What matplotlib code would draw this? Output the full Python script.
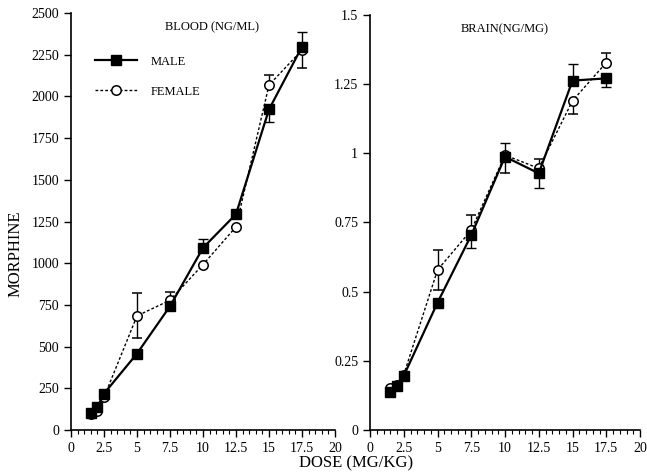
import matplotlib
matplotlib.use("Agg")
import matplotlib.pyplot as plt
from matplotlib.lines import Line2D
from matplotlib.ticker import MultipleLocator

plt.rcParams['font.family'] = ['Liberation Serif', 'DejaVu Serif']

dose = [1.5, 2, 2.5, 5, 7.5, 10, 12.5, 15, 17.5]

# blood (ng/ml)
blood_male = [104, 138, 218, 458, 742, 1092, 1294, 1922, 2298]
blood_male_lo = [0, 0, 0, 0, 0, 0, 0, 78, 0]
blood_male_hi = [0, 0, 0, 0, 0, 52, 0, 0, 86]
blood_female = [93, 115, 196, 684, 778, 992, 1218, 2068, 2278]
blood_female_lo = [0, 0, 0, 135, 0, 0, 0, 0, 110]
blood_female_hi = [0, 0, 0, 138, 50, 0, 0, 60, 0]

# brain (ng/mg)
brain_male = [0.136, 0.160, 0.196, 0.460, 0.704, 0.987, 0.927, 1.262, 1.270]
brain_male_lo = [0, 0, 0, 0, 0.048, 0, 0.054, 0, 0.032]
brain_male_hi = [0, 0, 0, 0, 0, 0.051, 0, 0.059, 0]
brain_female = [0.150, 0.162, 0.200, 0.578, 0.722, 0.993, 0.945, 1.189, 1.327]
brain_female_lo = [0, 0, 0, 0.072, 0, 0.064, 0, 0.049, 0]
brain_female_hi = [0, 0, 0, 0.072, 0.054, 0, 0.033, 0, 0.033]

xticks = [0, 2.5, 5, 7.5, 10, 12.5, 15, 17.5, 20]
xtick_labels = ["0", "2.5", "5", "7.5", "10", "12.5", "15", "17.5", "20"]
blood_ticks = [0, 250, 500, 750, 1000, 1250, 1500, 1750, 2000, 2250, 2500]
brain_ticks = [0, 0.25, 0.5, 0.75, 1, 1.25, 1.5]
brain_tick_labels = ["0", "0.25", "0.5", "0.75", "1", "1.25", "1.5"]

male_style = dict(marker='s', ls='-', color='black', ms=7.3, lw=1.6)
female_style = dict(marker='o', ls=(0, (2, 1.5)), color='black', mfc='white',
                    mec='black', ms=6.8, mew=1.1, lw=1.0)

fig = plt.figure(figsize=(6.47, 4.74), dpi=100)
ax1 = fig.add_axes([0.1097, 0.0928, 0.4081, 0.8798])
ax2 = fig.add_axes([0.5719, 0.0928, 0.4173, 0.8762])


def draw(ax, m, mlo, mhi, f, flo, fhi):
    ax.errorbar(dose, f, yerr=[flo, fhi], capsize=3.5, elinewidth=1.0,
                capthick=1.0, zorder=3, ecolor='black', **female_style)
    ax.errorbar(dose, m, yerr=[mlo, mhi], capsize=3.5, elinewidth=1.0,
                capthick=1.0, zorder=4, ecolor='black', **male_style)
    ax.set_xlim(0, 20)
    ax.set_xticks(xticks)
    ax.set_xticklabels(xtick_labels)
    ax.xaxis.set_minor_locator(MultipleLocator(0.5))
    for s in ['top', 'right']:
        ax.spines[s].set_visible(False)
    ax.spines['left'].set_linewidth(1.2)
    ax.spines['bottom'].set_linewidth(1.2)
    ax.tick_params(which='major', length=5, width=1.0, labelsize=10, direction='out')
    ax.tick_params(which='minor', length=3, width=0.8, direction='out')
    ax.tick_params(axis='y', which='minor', left=False)


draw(ax1, blood_male, blood_male_lo, blood_male_hi,
     blood_female, blood_female_lo, blood_female_hi)
ax1.set_ylim(0, 2500)
ax1.set_yticks(blood_ticks)
ax1.text(0.535, 0.965, "BLOOD (NG/ML)", transform=ax1.transAxes, ha='center',
         va='center', fontsize=9)
handles = [Line2D([], [], **male_style), Line2D([], [], **female_style)]
ax1.legend(handles, ["MALE", "FEMALE"], loc='upper left', bbox_to_anchor=(0.05, 0.925),
           frameon=False, fontsize=9, handlelength=3.3, labelspacing=1.45,
           handletextpad=1.1)

draw(ax2, brain_male, brain_male_lo, brain_male_hi,
     brain_female, brain_female_lo, brain_female_hi)
ax2.set_ylim(0, 1.5)
ax2.set_yticks(brain_ticks)
ax2.set_yticklabels(brain_tick_labels)
ax2.text(0.5, 0.965, "BRAIN(NG/MG)", transform=ax2.transAxes, ha='center',
         va='center', fontsize=9)

fig.text(0.024, 0.464, "MORPHINE", rotation=90, ha='center', va='center', fontsize=12)
fig.text(0.55, 0.023, "DOSE (MG/KG)", ha='center', va='center', fontsize=12)

fig.savefig("out.png", dpi=100)
